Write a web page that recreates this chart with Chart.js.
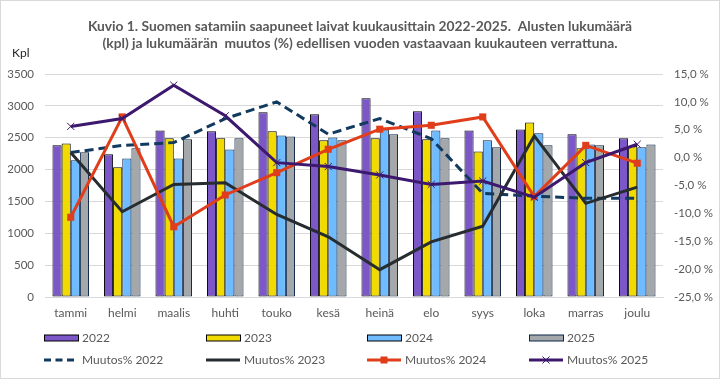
<!DOCTYPE html>
<html>
<head>
<meta charset="utf-8">
<script src="https://cdn.jsdelivr.net/npm/chart.js@4"></script>
<style>
html,body{margin:0;padding:0;background:#fff;}
#wrap{width:720px;height:379px;position:relative;}
</style>
</head>
<body>
<div id="wrap"><canvas id="c" width="720" height="379"></canvas></div>
<script>
const categories = ['tammi','helmi','maalis','huhti','touko','kesä','heinä','elo','syys','loka','marras','joulu'];
const bars2022 = [2380,2240,2615,2600,2900,2870,3120,2915,2615,2630,2555,2490];
const bars2023 = [2410,2035,2490,2490,2600,2460,2490,2475,2285,2740,2335,2370];
const bars2024 = [2145,2175,2175,2315,2535,2505,2630,2615,2460,2570,2395,2350];
const bars2025 = [2270,2335,2475,2490,2520,2460,2555,2490,2350,2380,2380,2395];
const muutos2022 = [0.9,2.2,2.7,7.0,10.0,4.2,7.0,3.4,-6.4,-6.9,-7.3,-7.3];
const muutos2023 = [0.9,-9.7,-4.8,-4.5,-10.2,-14.2,-20.1,-15.1,-12.3,3.9,-8.2,-5.3];
const muutos2024 = [-10.7,7.3,-12.4,-6.7,-2.7,1.5,5.1,5.8,7.3,-7.0,2.2,-1.0];
const muutos2025 = [5.6,7.0,13.0,7.5,-0.9,-1.6,-3.1,-4.8,-4.2,-7.1,-0.9,2.4];
const leftTicks = {min:0, max:3500, step:500};
const rightTicks = {min:-25, max:15, step:5};
const titleLines = ['Kuvio 1. Suomen satamiin saapuneet laivat kuukausittain 2022-2025.  Alusten lukumäärä',
                    '(kpl) ja lukumäärän  muutos (%) edellisen vuoden vastaavaan kuukauteen verrattuna.'];
const unitLabel = 'Kpl';

const FONT = "Lato, 'Open Sans', sans-serif";
const TXT = '#595959';
const C = {
  p22:'#7B57C8', y23:'#F0DA00', b24:'#6EBBFF', g25:'#A4A8AA',
  l22:'#123A5E', l23:'#262C2F', l24:'#E03E1B', l25:'#3C186E'
};

const legendItems = [
  {text:'2022', kind:'bar', fill:C.p22, stroke:'#000'},
  {text:'2023', kind:'bar', fill:C.y23, stroke:'#000'},
  {text:'2024', kind:'bar', fill:C.b24, stroke:'#000'},
  {text:'2025', kind:'bar', fill:C.g25, stroke:'#0B2447'},
  {text:'Muutos% 2022', kind:'dash', stroke:C.l22},
  {text:'Muutos% 2023', kind:'line', stroke:C.l23},
  {text:'Muutos% 2024', kind:'rect', stroke:C.l24},
  {text:'Muutos% 2025', kind:'cross', stroke:C.l25}
];

const extras = {
  id:'extras',
  afterDraw(chart){
    const ctx = chart.ctx;
    ctx.save();
    ctx.strokeStyle = '#D9D9D9'; ctx.lineWidth = 1;
    ctx.strokeRect(0.5,0.5,719,378);
    ctx.fillStyle = '#262626';
    ctx.font = '12px ' + FONT;
    ctx.textBaseline = 'middle'; ctx.textAlign = 'left';
    ctx.fillText(unitLabel, 12, 53);
    const cols = [44,206,367,529], rows = [338,360];
    legendItems.forEach((it,i)=>{
      const x = cols[i%4], y = rows[Math.floor(i/4)];
      ctx.setLineDash([]);
      if(it.kind==='bar'){
        ctx.fillStyle = it.fill; ctx.fillRect(x+0.5,y-3,34,6);
        ctx.strokeStyle = it.stroke; ctx.lineWidth = 1; ctx.strokeRect(x+0.5,y-3,34,6);
      } else {
        ctx.strokeStyle = it.stroke; ctx.lineWidth = 3;
        if(it.kind==='dash') ctx.setLineDash([7,4.5]);
        ctx.beginPath(); ctx.moveTo(x,y); ctx.lineTo(x+34,y); ctx.stroke();
        ctx.setLineDash([]);
        if(it.kind==='rect'){ ctx.fillStyle = it.stroke; ctx.fillRect(x+13.5,y-3.5,7,7); }
        if(it.kind==='cross'){
          ctx.lineWidth = 1; ctx.beginPath();
          ctx.moveTo(x+13.5,y-3.5); ctx.lineTo(x+20.5,y+3.5);
          ctx.moveTo(x+20.5,y-3.5); ctx.lineTo(x+13.5,y+3.5); ctx.stroke();
        }
      }
      ctx.fillStyle = TXT; ctx.font = '12px ' + FONT;
      ctx.textBaseline = 'middle'; ctx.textAlign = 'left';
      ctx.fillText(it.text, x+38, y);
    });
    ctx.restore();
  }
};

function barDs(label, data, fill, stroke){
  return {type:'bar', label, data, backgroundColor:fill, borderColor:stroke, borderWidth:1,
    borderSkipped:false, yAxisID:'y', order:10, categoryPercentage:0.71, barPercentage:1.0};
}
function lineDs(label, data, color, order, extra){
  return Object.assign({type:'line', label, data, borderColor:color, backgroundColor:color,
    borderWidth:3, tension:0, fill:false, yAxisID:'y2', order, pointRadius:0, pointHoverRadius:0}, extra||{});
}

new Chart(document.getElementById('c'), {
  data:{
    labels:categories,
    datasets:[
      barDs('2022', bars2022, C.p22, '#000'),
      barDs('2023', bars2023, C.y23, '#000'),
      barDs('2024', bars2024, C.b24, '#0B2447'),
      barDs('2025', bars2025, C.g25, '#0B2447'),
      lineDs('Muutos% 2022', muutos2022, C.l22, 4, {borderDash:[9,5]}),
      lineDs('Muutos% 2023', muutos2023, C.l23, 3),
      lineDs('Muutos% 2024', muutos2024, C.l24, 2, {pointStyle:'rect', pointRadius:5, pointBorderWidth:0}),
      lineDs('Muutos% 2025', muutos2025, C.l25, 1, {pointStyle:'crossRot', pointRadius:5, pointBorderWidth:1})
    ]
  },
  options:{
    responsive:false, animation:false, devicePixelRatio:1,
    layout:{padding:0},
    plugins:{
      legend:{display:false}, tooltip:{enabled:false},
      title:{display:true, text:titleLines, color:TXT,
        font:{family:FONT, size:13.8, weight:'bold', lineHeight:17/13.8},
        padding:{top:18, bottom:22}}
    },
    scales:{
      x:{
        grid:{display:false, drawTicks:false},
        border:{display:true, color:'#D9D9D9'},
        ticks:{color:TXT, font:{family:FONT, size:12}, padding:8.5, maxRotation:0, autoSkip:false},
        afterFit(s){ s.height = 82; }
      },
      y:{
        position:'left', min:leftTicks.min, max:leftTicks.max,
        grid:{color:'#D9D9D9', drawTicks:false},
        border:{display:false},
        ticks:{stepSize:leftTicks.step, color:TXT, font:{family:FONT, size:11.5}, padding:11,
          callback:v=>String(v)},
        afterFit(s){ s.width = 45; }
      },
      y2:{
        position:'right', min:rightTicks.min, max:rightTicks.max,
        grid:{display:false, drawTicks:false},
        border:{display:false},
        ticks:{stepSize:rightTicks.step, color:TXT, font:{family:FONT, size:11.5}, padding:11,
          callback:v=>v.toFixed(1).replace('.',',')+' %'},
        afterFit(s){ s.width = 57; }
      }
    }
  },
  plugins:[extras]
});
</script>
</body>
</html>
